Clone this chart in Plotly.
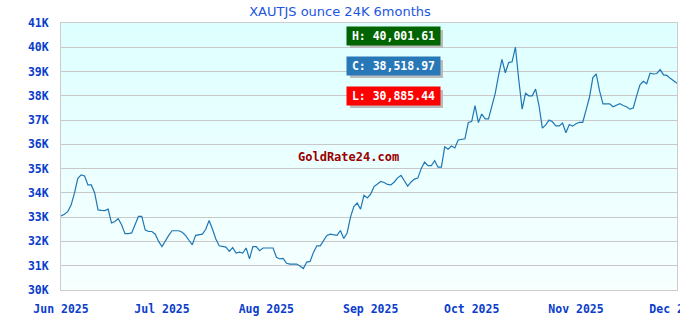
import pandas as pd
import plotly.graph_objects as go

start_date = "2025-06-01"
end_date = "2025-12-01"

jun = [33050, 33120, 33230, 33500, 33990, 34600, 34740, 34700, 34330, 34330,
       34000, 33300, 33280, 33270, 33330, 32760, 32820, 32940, 32690, 32320,
       32320, 32350, 32690, 33030, 33030, 32480, 32410, 32410, 32300, 32000]
jul = [31790, 32050, 32250, 32440, 32440, 32440, 32380, 32250, 32050, 31860,
       32250, 32280, 32300, 32500, 32860, 32500, 32100, 31820, 31780, 31770,
       31590, 31750, 31520, 31560, 31520, 31730, 31280, 31790, 31790, 31620, 31730]
aug = [31730, 31730, 31730, 31350, 31280, 31300, 31100, 31070, 31070, 31070,
       30990, 30885.44, 31150, 31180, 31550, 31820, 31820, 32050, 32250, 32300,
       32270, 32250, 32450, 32120, 32350, 33000, 33440, 33580, 33330, 33900, 33790]
sep = [33950, 34260, 34350, 34470, 34430, 34350, 34330, 34450, 34620, 34720,
       34500, 34280, 34450, 34570, 34610, 35000, 35270, 35120, 35120, 35330,
       35060, 35060, 35900, 35800, 35930, 35850, 36180, 36200, 36230, 36900]
oct_ = [36940, 37600, 36900, 37250, 37050, 37050, 37600, 38100, 38850, 39500,
        38950, 39370, 39400, 40001.61, 38650, 37450, 38100, 38000, 38000, 38280,
        37600, 36670, 36800, 37000, 36930, 36760, 36760, 36880, 36480, 36820, 36750]
nov = [36850, 36910, 36910, 37420, 37940, 38750, 38900, 38200, 37670, 37670,
       37670, 37550, 37620, 37680, 37600, 37550, 37450, 37500, 38000, 38450,
       38600, 38500, 38930, 38900, 38920, 39080, 38860, 38840, 38720, 38620]
dec = [38518.97]

prices = jun + jul + aug + sep + oct_ + nov + dec
dates = pd.date_range(start_date, end_date, freq="D")

y_ticks = [30000, 31000, 32000, 33000, 34000, 35000, 36000, 37000, 38000, 39000, 40000, 41000]
y_labels = ["30K", "31K", "32K", "33K", "34K", "35K", "36K", "37K", "38K", "39K", "40K", "41K"]
x_ticks = ["2025-06-01", "2025-07-01", "2025-08-01", "2025-09-01", "2025-10-01", "2025-11-01", "2025-12-01"]
x_labels = ["Jun 2025", "Jul 2025", "Aug 2025", "Sep 2025", "Oct 2025", "Nov 2025", "Dec 2025"]

high_text = "H: 40,001.61"
close_text = "C: 38,518.97"
low_text = "L: 30,885.44"
title_text = "XAUTJS ounce 24K 6months"
watermark = "GoldRate24.com"

MONO = "DejaVu Sans Mono"
TICK_COLOR = "#0a3dcc"

# plot area in pixels (for placing the labels in paper coordinates)
PL, PR, PT, PB = 61, 677, 23, 290
PW, PH = PR - PL, PB - PT


def px_x(x):
    return (x - PL) / PW


def px_y(y):
    return (PB - y) / PH


fig = go.Figure()
fig.add_trace(go.Scatter(x=dates, y=prices, mode="lines",
                         line=dict(color="#1f77b4", width=1.2),
                         hoverinfo="x+y", showlegend=False))

# vertical gradient background (light cyan at top to near white at bottom)
n_bands = 40
top = (222, 255, 255)
bot = (247, 255, 255)
shapes = []
for i in range(n_bands):
    t = i / (n_bands - 1)
    c = tuple(round(bot[k] + (top[k] - bot[k]) * t) for k in range(3))
    shapes.append(dict(type="rect", xref="paper", yref="paper",
                       x0=0, x1=1, y0=i / n_bands, y1=(i + 1) / n_bands + 0.002,
                       fillcolor="rgb(%d,%d,%d)" % c, line=dict(width=0),
                       layer="below"))

annotations = []
box_x0, box_x1 = 347, 440
boxes = [(high_text, "#006400", 27), (close_text, "#2878b8", 57), (low_text, "#ff0000", 87)]
for text, color, ytop in boxes:
    # drop shadow
    shapes.append(dict(type="rect", xref="paper", yref="paper",
                       x0=px_x(box_x0 + 3), x1=px_x(box_x1 + 3),
                       y0=px_y(ytop + 18 + 3), y1=px_y(ytop + 3),
                       fillcolor="#bbbbbb", line=dict(width=0), layer="above"))
    annotations.append(dict(text=text, x=px_x((box_x0 + box_x1) / 2), y=px_y(ytop + 9),
                            xref="paper", yref="paper", xanchor="center", yanchor="middle",
                            showarrow=False,
                            font=dict(family=MONO, size=11.5, color="white", weight="bold"),
                            bgcolor=color, width=87, height=12, borderpad=3))

annotations.append(dict(text=watermark, x=px_x(348), y=px_y(157),
                        xref="paper", yref="paper", xanchor="center", yanchor="middle",
                        showarrow=False,
                        font=dict(family=MONO, size=12, color="#990000", weight="bold")))

fig.update_layout(
    width=680, height=320,
    margin=dict(l=PL, r=680 - PR, t=PT, b=320 - PB, autoexpand=False),
    paper_bgcolor="white",
    plot_bgcolor="white",
    shapes=shapes,
    annotations=annotations,
    title=dict(text=title_text, x=0.5, xanchor="center", y=1 - 11 / 320, yanchor="middle",
               font=dict(family="Verdana, DejaVu Sans", size=13, color="#2255dd")),
    xaxis=dict(type="date", range=[start_date, end_date], tickvals=x_ticks, ticktext=x_labels,
               showgrid=False, showline=True, mirror=True, linecolor="#cccccc", linewidth=1,
               ticks="", ticklabelstandoff=8, ticklabeloverflow="allow", automargin=False,
               tickfont=dict(family=MONO, size=11.5, color=TICK_COLOR, weight="bold")),
    yaxis=dict(range=[30000, 41000], tickvals=y_ticks, ticktext=y_labels,
               showgrid=True, gridcolor="#c8c8c8", gridwidth=1,
               showline=True, mirror=True, linecolor="#cccccc", linewidth=1,
               ticks="", ticklabelstandoff=9, zeroline=False, automargin=False,
               tickfont=dict(family=MONO, size=11.5, color=TICK_COLOR, weight="bold")),
)

fig.write_html("out.html")
